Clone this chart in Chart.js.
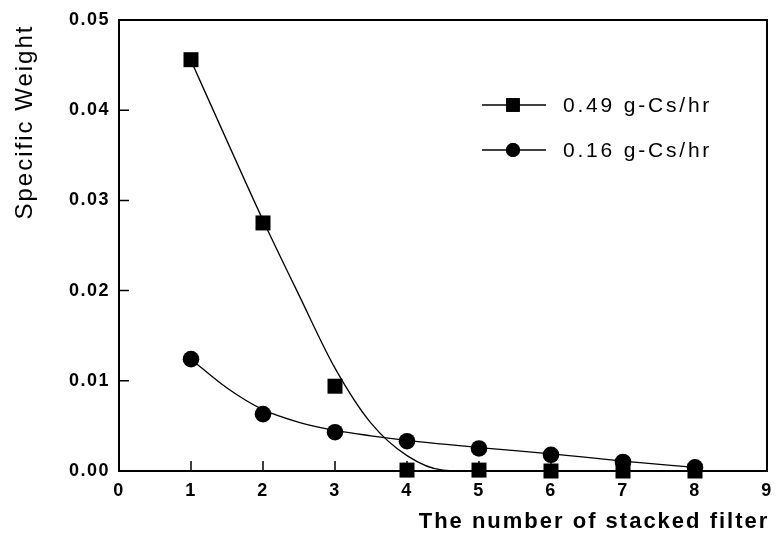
<!DOCTYPE html>
<html>
<head>
<meta charset="utf-8">
<script src="https://cdn.jsdelivr.net/npm/chart.js@4.4.0/dist/chart.umd.min.js"></script>
<style>
html, body { margin: 0; padding: 0; background: #fff; }
</style>
</head>
<body>
<canvas id="chart" width="781" height="538"></canvas>
<script>
// measured points
const filters = [1, 2, 3, 4, 5, 6, 7, 8];
const weightHigh = [0.0456, 0.0275, 0.0094, 0.0001, 0.0001, 0, 0, 0];
const weightLow = [0.0124, 0.0063, 0.0043, 0.0033, 0.0025, 0.0018, 0.0010, 0.0004];

// fitted curves
const fitHighX = [1, 1.5, 2, 2.5, 3, 3.5, 4, 4.5, 5, 6, 7, 8];
const fitHighY = [0.0455, 0.0366, 0.0278, 0.0195, 0.0114, 0.0053, 0.0017, 0.0001, 0, 0, 0, 0];
const fitLowX = [1, 1.5, 2, 2.5, 3, 3.5, 4, 5, 6, 7, 8];
const fitLowY = [0.0124, 0.0092, 0.0068, 0.0054, 0.0045, 0.0039, 0.0034, 0.0026, 0.0019, 0.0011, 0.0004];

const seriesLabels = ['0.49 g-Cs/hr', '0.16 g-Cs/hr'];
const xTicks = [0, 1, 2, 3, 4, 5, 6, 7, 8, 9];
const yTicks = [0, 0.01, 0.02, 0.03, 0.04, 0.05];
const xTitle = 'The number of stacked filter';
const yTitle = 'Specific Weight';

const FONT = "'Liberation Sans', Arial, Helvetica, sans-serif";

function pairs(xs, ys) {
    return xs.map((x, i) => ({ x: x, y: ys[i] }));
}

// box, inward tick marks, axis titles and legend
const decorations = {
    id: 'decorations',
    beforeDraw(chart) {
        chart.ctx.letterSpacing = '1.5px';
    },
    afterDraw(chart) {
        const ctx = chart.ctx;
        const area = chart.chartArea;
        const xs = chart.scales.x;
        const ys = chart.scales.y;

        ctx.save();
        ctx.strokeStyle = '#000';
        ctx.lineWidth = 2;
        ctx.strokeRect(area.left, area.top, area.right - area.left, area.bottom - area.top);

        ctx.lineWidth = 1.5;
        ctx.beginPath();
        xTicks.slice(1, -1).forEach(v => {
            const px = xs.getPixelForValue(v);
            ctx.moveTo(px, area.bottom);
            ctx.lineTo(px, area.bottom - 10);
        });
        yTicks.slice(1, -1).forEach(v => {
            const py = ys.getPixelForValue(v);
            ctx.moveTo(area.left, py);
            ctx.lineTo(area.left + 10, py);
        });
        ctx.stroke();

        ctx.fillStyle = '#000';
        ctx.letterSpacing = '2px';
        ctx.font = 'bold 22px ' + FONT;
        ctx.textAlign = 'center';
        ctx.textBaseline = 'alphabetic';
        ctx.fillText(xTitle, 594, 528);

        ctx.save();
        ctx.letterSpacing = '2px';
        ctx.font = '24px ' + FONT;
        ctx.translate(32, 122);
        ctx.rotate(-Math.PI / 2);
        ctx.fillText(yTitle, 0, 0);
        ctx.restore();

        // legend
        const rows = [
            { y: 105, style: 'rect', r: 9.6 },
            { y: 150, style: 'circle', r: 7 }
        ];
        ctx.font = '21px ' + FONT;
        ctx.letterSpacing = '2.8px';
        ctx.textAlign = 'left';
        ctx.textBaseline = 'middle';
        rows.forEach((row, i) => {
            ctx.lineWidth = 1.5;
            ctx.beginPath();
            ctx.moveTo(482, row.y);
            ctx.lineTo(546, row.y);
            ctx.stroke();
            Chart.helpers.drawPoint(ctx, { pointStyle: row.style, radius: row.r, rotation: 0, borderWidth: 0 }, 513, row.y);
            ctx.fill();
            ctx.fillText(seriesLabels[i], 563, row.y + 1);
        });
        ctx.restore();
    }
};

new Chart(document.getElementById('chart'), {
    type: 'line',
    data: {
        datasets: [{
            data: pairs(fitHighX, fitHighY),
            borderColor: '#000',
            borderWidth: 1.3,
            pointRadius: 0,
            cubicInterpolationMode: 'monotone',
            fill: false
        }, {
            data: pairs(fitLowX, fitLowY),
            borderColor: '#000',
            borderWidth: 1.3,
            pointRadius: 0,
            cubicInterpolationMode: 'monotone',
            fill: false
        }, {
            label: seriesLabels[0],
            data: pairs(filters, weightHigh),
            showLine: false,
            pointStyle: 'rect',
            pointRadius: 10.6,
            pointBackgroundColor: '#000',
            pointBorderWidth: 0,
            clip: false
        }, {
            label: seriesLabels[1],
            data: pairs(filters, weightLow),
            showLine: false,
            pointStyle: 'circle',
            pointRadius: 8.3,
            pointBackgroundColor: '#000',
            pointBorderWidth: 0,
            clip: false
        }]
    },
    options: {
        responsive: false,
        animation: false,
        devicePixelRatio: 1,
        layout: { padding: { left: 0, top: 20, right: 9, bottom: 0 } },
        plugins: {
            legend: { display: false },
            tooltip: { enabled: false }
        },
        scales: {
            x: {
                type: 'linear',
                min: 0,
                max: 9,
                afterBuildTicks: s => { s.ticks = xTicks.map(v => ({ value: v })); },
                afterFit: s => { s.height = 67; },
                grid: { display: false, drawTicks: false },
                border: { display: false },
                ticks: {
                    color: '#000',
                    padding: 9,
                    maxRotation: 0,
                    font: { family: FONT, size: 18, weight: 'bold' }
                }
            },
            y: {
                type: 'linear',
                min: 0,
                max: 0.05,
                afterBuildTicks: s => { s.ticks = yTicks.map(v => ({ value: v })); },
                afterFit: s => { s.width = 119; },
                grid: { display: false, drawTicks: false },
                border: { display: false },
                ticks: {
                    color: '#000',
                    padding: 9,
                    font: { family: FONT, size: 18, weight: 'bold' },
                    callback: v => v.toFixed(2)
                }
            }
        }
    },
    plugins: [decorations]
});
</script>
</body>
</html>
